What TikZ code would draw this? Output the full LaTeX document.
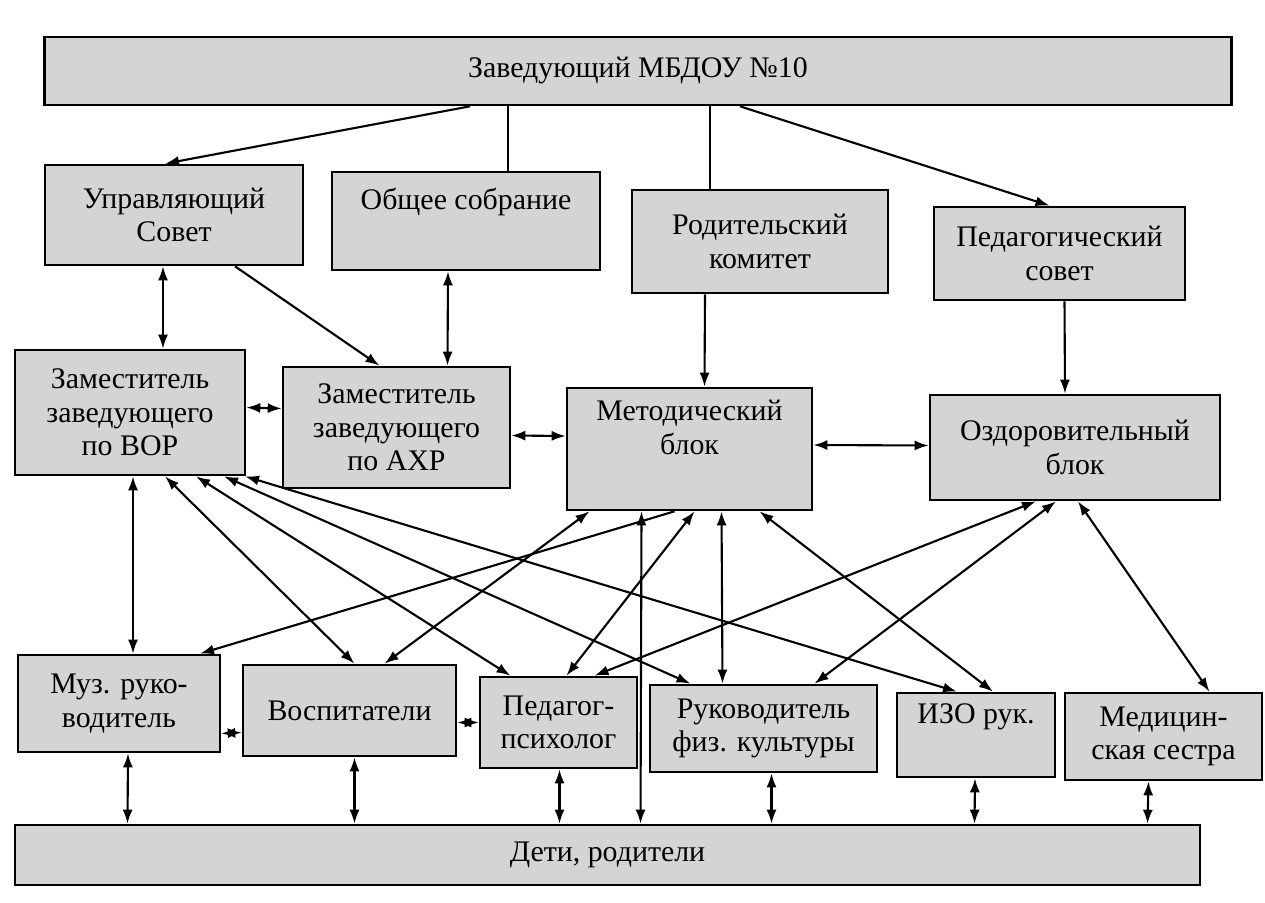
\documentclass[tikz,border=0pt]{standalone}
\usepackage{fontspec}
\setmainfont{Liberation Serif}
\usetikzlibrary{arrows.meta}
\usetikzlibrary{calc}

\begin{document}
\begin{tikzpicture}[x=0.2mm,y=-0.2mm,
	block/.style = {draw, line width=1.5pt, fill=black!17, align=center, inner sep=2pt, font=\fontsize{17}{19}\selectfont},
	plain/.style = {line width=1.2pt},
	one/.style = {line width=1.2pt, -{Latex[length=2.8mm,width=2mm]}},
	two/.style = {line width=1.2pt, {Latex[length=2.8mm,width=2mm]}-{Latex[length=2.8mm,width=2mm]}}]
	\useasboundingbox (0,0) rectangle (1265,902);
	\begin{scope}[every node/.style={block}]
		\node[minimum width=237.4mm,minimum height=13.6mm] (zav) at (638,71) {Заведующий МБДОУ №10};
		\node[minimum width=51.6mm,minimum height=20mm] (us) at (174,215) {Управляющий\\Совет};
		\node[minimum width=53.6mm,minimum height=19.6mm] (os) at (466,221) {Общее собрание\\\strut};
		\node[minimum width=51.2mm,minimum height=20.6mm] (rk) at (760,241.5) {Родительский\\комитет};
		\node[minimum width=50.2mm,minimum height=18.6mm] (ps) at (1059.5,253.5) {Педагогический\\совет};
		\node[minimum width=46mm,minimum height=25mm] (vor) at (130,412.5) {Заместитель\\заведующего\\по ВОР};
		\node[minimum width=45.4mm,minimum height=24.2mm] (ahr) at (396.5,427.5) {Заместитель\\заведующего\\по АХР};
		\node[minimum width=49mm,minimum height=24.4mm] (met) at (689.5,449) {Методический\\блок\\\strut};
		\node[minimum width=58mm,minimum height=21mm] (ozd) at (1075,447.5) {Оздоровительный\\блок};
		\node[minimum width=40.4mm,minimum height=19.4mm] (muz) at (119,703.5) {Муз. руко-\\водитель};
		\node[minimum width=42.6mm,minimum height=18.2mm] (vos) at (349.5,710.5) {Воспитатели};
		\node[minimum width=31.4mm,minimum height=18.2mm] (pp) at (558.5,722.5) {Педагог-\\психолог};
		\node[minimum width=45.4mm,minimum height=17.4mm] (fk) at (763.5,728.5) {Руководитель\\физ. культуры};
		\node[minimum width=31.6mm,minimum height=16.8mm] (izo) at (976,735) {ИЗО рук.\\\strut};
		\node[minimum width=39.4mm,minimum height=17.4mm] (med) at (1163.5,736.5) {Медицин-\\ская сестра};
		\node[minimum width=237mm,minimum height=12mm] (det) at (607.5,855) {Дети, родители};
	\end{scope}
	\draw [one] ($(zav.south)+(-168,0)$) -- ($(us.north)+(-9,0)$);
	\draw [plain] ($(zav.south)+(-130,0)$) -- ($(os.north)+(42,0)$);
	\draw [plain] ($(zav.south)+(72,0)$) -- ($(rk.north)+(-50,0)$);
	\draw [one] ($(zav.south)+(102,0)$) -- ($(ps.north)+(-10,0)$);
	\draw [two] ($(us.south)+(-11,0)$) -- ($(vor.north)+(33,0)$);
	\draw [one] ($(us.south)+(61,0)$) -- ($(ahr.north)+(-17,0)$);
	\draw [two] ($(os.south)+(-18,0)$) -- ($(ahr.north)+(51,0)$);
	\draw [one] ($(rk.south)+(-55,0)$) -- ($(met.north)+(15,0)$);
	\draw [one] ($(ps.south)+(5,0)$) -- ($(ozd.north)+(-10,0)$);
	\draw [two] ($(vor.east)+(0,-5)$) -- ($(ahr.west)+(0,-19)$);
	\draw [two] ($(ahr.east)+(0,8)$) -- ($(met.west)+(0,-13)$);
	\draw [two] ($(met.east)+(0,-4)$) -- ($(ozd.west)+(0,-2)$);
	\draw [two] ($(vor.south)+(3,0)$) -- ($(muz.north)+(14,0)$);
	\draw [two] ($(vor.south)+(35,0)$) -- ($(vos.north)+(5,0)$);
	\draw [two] ($(vor.south)+(66,0)$) -- ($(pp.north)+(-48,0)$);
	\draw [two] ($(vor.south)+(94,0)$) -- ($(fk.north)+(-73,0)$);
	\draw [two] ($(vor.south)+(115,0)$) -- ($(izo.north)+(-19,0)$);
	\draw [one] ($(met.south)+(-15,0)$) -- ($(muz.north)+(81,0)$);
	\draw [two] ($(met.south)+(-100,0)$) -- ($(vos.north)+(35,0)$);
	\draw [two] ($(met.south)+(-48,0)$) -- ($(det.north)+(33,0)$);
	\draw [two] ($(met.south)+(5,0)$) -- ($(pp.north)+(8,0)$);
	\draw [two] ($(met.south)+(32,0)$) -- ($(fk.north)+(-41,0)$);
	\draw [two] ($(met.south)+(70,0)$) -- ($(izo.north)+(17,0)$);
	\draw [two] ($(ozd.south)+(-39,0)$) -- ($(pp.north)+(36,0)$);
	\draw [two] ($(ozd.south)+(-19,0)$) -- ($(fk.north)+(51,0)$);
	\draw [two] ($(ozd.south)+(3,0)$) -- ($(med.north)+(46,0)$);
	\draw [two] ($(muz.east)+(0,30)$) -- ($(vos.west)+(0,22)$);
	\draw [two] ($(vos.east)+(0,12)$) -- (pp.west);
	\draw [two] ($(muz.south)+(9,0)$) -- ($(det.north)+(-480,0)$);
	\draw [two] ($(vos.south)+(5,0)$) -- ($(det.north)+(-253,0)$);
	\draw [two] ($(pp.south)+(1,0)$) -- ($(det.north)+(-48,0)$);
	\draw [two] ($(fk.south)+(8,0)$) -- ($(det.north)+(164,0)$);
	\draw [two] ($(izo.south)+(-1,0)$) -- ($(det.north)+(367,0)$);
	\draw [two] ($(med.south)+(-15,0)$) -- ($(det.north)+(540,0)$);
\end{tikzpicture}
\end{document}
